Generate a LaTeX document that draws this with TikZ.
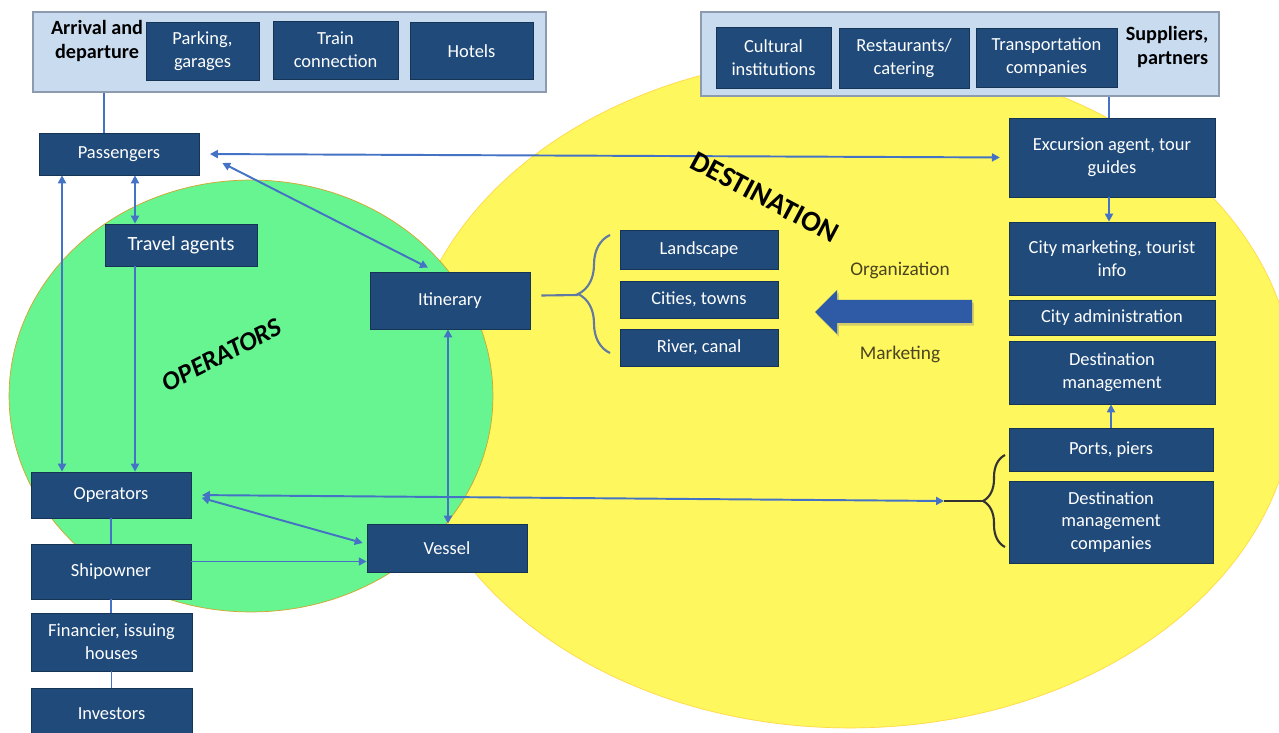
\documentclass[tikz,border=0pt]{standalone}
\usepackage{fontspec}
\setmainfont{Carlito}
\usetikzlibrary{arrows.meta,decorations.pathreplacing,shadows}

\definecolor{navy}{HTML}{1F4A7A}
\definecolor{grpfill}{HTML}{C9DBEF}
\definecolor{grpedge}{HTML}{8C9BAE}
\definecolor{linkblue}{HTML}{4472C4}
\definecolor{opsgreen}{HTML}{66F591}
\definecolor{destyellow}{HTML}{FFF75E}
\definecolor{bigblue}{HTML}{2F5AA5}
\definecolor{olivetext}{HTML}{4A4420}
\newcommand{\bxfont}{\fontsize{10.5}{13}\selectfont}
\newcommand{\hdfont}{\bfseries\fontsize{11.5}{14}\selectfont}

\tikzset{
  dbox/.style={draw=navy!70!black, line width=0.4pt, fill=navy, text=white,
    align=center, inner sep=1pt, font=\bxfont},
  grpbox/.style={draw=grpedge, line width=1.3pt, fill=grpfill},
  link/.style={draw=linkblue, line width=1.1pt},
  brc/.style={decorate, decoration={brace, amplitude=#1}, line width=1.2pt},
}

\begin{document}
\begin{tikzpicture}[x=0.02cm, y=-0.02cm, >={Triangle[length=4.5pt,width=4.5pt]}]
	\useasboundingbox[fill=white] (0,0) rectangle (1279,733);
	
	% the two areas
	\draw[draw=destyellow!75!orange, fill=destyellow] (850,392) ellipse [x radius=8.9cm, y radius=6.72cm];
	\draw[draw=brown!70!yellow, fill=opsgreen] (251,396) ellipse [x radius=4.84cm, y radius=4.32cm];
	
	% arrival and suppliers
	\node[grpbox, minimum width=10.26cm, minimum height=1.6cm] (arrgrp) at (289.5,52) {};
	\node[font=\hdfont, align=center] (arrtxt) at (97,41) {Arrival and\\departure};
	\node[dbox, minimum width=2.26cm, minimum height=1.16cm] (park) at (202.5,51) {Parking,\\garages};
	\node[dbox, minimum width=2.5cm, minimum height=1.16cm] (train) at (335.5,50) {Train\\connection};
	\node[dbox, minimum width=2.46cm, minimum height=1.14cm] (hotel) at (471.5,51) {Hotels};
	
	\node[grpbox, minimum width=10.36cm, minimum height=1.68cm] (supgrp) at (960,54) {};
	\node[dbox, minimum width=2.3cm, minimum height=1.22cm] (cult) at (773.5,57.5) {Cultural\\institutions};
	\node[dbox, minimum width=2.6cm, minimum height=1.2cm] (rest) at (904,58) {Restaurants/\\catering};
	\node[dbox, minimum width=2.82cm, minimum height=1.18cm] (transp) at (1046.5,57.5) {Transportation\\companies};
	\node[font=\hdfont, align=right] (suptxt) at (1167,47) {Suppliers,\\partners};
	
	% operators side
	\node[dbox, minimum width=3.2cm, minimum height=0.84cm] (pass) at (119,154) {Passengers};
	\node[dbox, minimum width=3.04cm, minimum height=0.84cm, font=\fontsize{11.5}{13}\selectfont] (tag) at (181,245) {Travel agents};
	\node[dbox, minimum width=3.2cm, minimum height=1.14cm] (itin) at (450,300.5) {Itinerary};
	\node[dbox, minimum width=3.2cm, minimum height=0.92cm] (ops) at (111,495) {Operators};
	\node[dbox, minimum width=3.2cm, minimum height=1.1cm] (ship) at (111,571.5) {Shipowner};
	\node[dbox, minimum width=3.22cm, minimum height=1.16cm] (fin) at (111.5,642) {Financier, issuing\\houses};
	\node[dbox, minimum width=3.22cm, minimum height=1.04cm] (inv) at (111.5,714) {Investors};
	\node[dbox, minimum width=3.2cm, minimum height=0.96cm] (vessel) at (447,548) {Vessel};
	
	% destination side
	\node[dbox, minimum width=3.16cm, minimum height=0.78cm] (land) at (699,249.5) {Landscape};
	\node[dbox, minimum width=3.16cm, minimum height=0.74cm] (city) at (699,299.5) {Cities, towns};
	\node[dbox, minimum width=3.16cm, minimum height=0.74cm] (river) at (699,347.5) {River, canal};
	\node[dbox, minimum width=4.12cm, minimum height=1.58cm] (exc) at (1112,157.5) {Excursion agent, tour\\guides};
	\node[dbox, minimum width=4.12cm, minimum height=1.46cm] (citym) at (1112,258.5) {City marketing, tourist\\info};
	\node[dbox, minimum width=4.12cm, minimum height=0.7cm] (cadm) at (1112,317.5) {City administration};
	\node[dbox, minimum width=4.12cm, minimum height=1.26cm] (dman) at (1112,372.5) {Destination\\management};
	\node[dbox, minimum width=4.08cm, minimum height=0.86cm] (ports) at (1111,449.5) {Ports, piers};
	\node[dbox, minimum width=4.08cm, minimum height=1.64cm] (dmc) at (1111,522) {Destination\\management\\companies};
	
	% connectors
	\draw[link] ([xshift=-0.3cm]pass.north) -- ([xshift=-0.3cm]pass.north |- arrgrp.south);
	\draw[link] ([xshift=-0.06cm]exc.north) -- ([xshift=-0.06cm]exc.north |- supgrp.south);
	\draw[link,->] ([xshift=-0.06cm]exc.south) -- ([xshift=-0.06cm]exc.south |- citym.north);
	\draw[link,->] (ports.north) -- (ports.north |- dman.south);
	\draw[link,<->, shorten <=6pt, shorten >=5pt] (pass.east) -- (exc.west);
	\draw[link,<->] ([shift={(0.46cm,-0.18cm)}]pass.east) -- ([shift={(-0.44cm,0.08cm)}]itin.north);
	\draw[link,<->] ([xshift=-0.04cm]itin.south) -- ([xshift=-0.04cm]itin.south |- vessel.north);
	\draw[link,<->] ([xshift=-1.14cm]pass.south) -- ([xshift=-1.14cm]pass.south |- ops.north);
	\draw[link,<->] ([xshift=0.32cm]pass.south) -- ([xshift=0.32cm]pass.south |- tag.north);
	\draw[link,->] ([xshift=-0.92cm]tag.south) -- ([xshift=-0.92cm]tag.south |- ops.north);
	\draw[link,<->, shorten <=6pt] (ops.east) -- ([shift={(-0.08cm,0.1cm)}]vessel.west);
	\draw[link,->] ([yshift=0.2cm]ship.east) -- ([yshift=0.2cm]ship.east -| vessel.west);
	\draw[link] (ops.south) -- (ops.south |- ship.north);
	\draw[link] (ship.south) -- (ship.south |- fin.north);
	\draw[link] (fin.south) -- (fin.south |- inv.north);
	
	\coordinate (dmcarr) at (944,501);
	\coordinate (dmctip) at (983,501);
	\draw[link,<->, shorten <=6pt] (ops.east) -- (dmcarr);
	\draw[line width=1.2pt, black!80] (dmcarr) -- (dmctip);
	\draw[brc=0.44cm, black!80] (1005,547) -- (1005,455);
	
	\coordinate (itintip) at (578,295);
	\draw[line width=1.2pt, linkblue!50!gray] ([shift={(0.22cm,0.1cm)}]itin.east) -- (itintip);
	\draw[brc=0.64cm, linkblue!50!gray] (610,353) -- (610,235);
	
	% organization / marketing arrow
	\fill[bigblue, drop shadow={shadow xshift=1pt, shadow yshift=-1.5pt, opacity=0.35}]
		(972,300) -- (837,300) -- (837,290) -- (815,312) -- (837,334) -- (837,323) -- (972,323) -- cycle;
	\node[text=olivetext, font=\fontsize{11}{13}\selectfont] (orglbl) at (900,270) {Organization};
	\node[text=olivetext, font=\fontsize{11}{13}\selectfont] (mktlbl) at (900,354) {Marketing};
	
	\node[rotate=-28, font=\bfseries\fontsize{16.5}{18}\selectfont] (destlbl) at (765,197) {DESTINATION};
	\node[rotate=27, font=\bfseries\itshape\fontsize{15}{17}\selectfont] (opslbl) at (222,355) {OPERATORS};
\end{tikzpicture}
\end{document}
